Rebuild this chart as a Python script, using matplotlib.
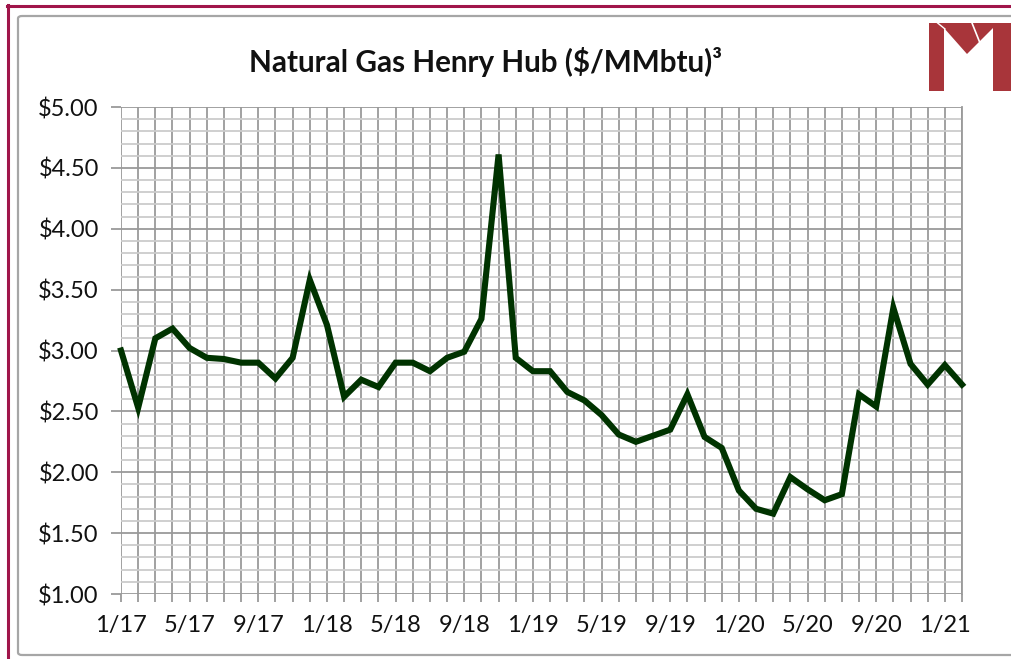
import matplotlib
matplotlib.use("Agg")
import matplotlib.pyplot as plt
from matplotlib.patches import Polygon, FancyBboxPatch
from matplotlib.lines import Line2D
import numpy as np

plt.rcParams['font.family'] = ['Lato', 'DejaVu Sans']

# ---- data ----
months = ["1/17", "2/17", "3/17", "4/17", "5/17", "6/17", "7/17", "8/17", "9/17", "10/17", "11/17", "12/17",
          "1/18", "2/18", "3/18", "4/18", "5/18", "6/18", "7/18", "8/18", "9/18", "10/18", "11/18", "12/18",
          "1/19", "2/19", "3/19", "4/19", "5/19", "6/19", "7/19", "8/19", "9/19", "10/19", "11/19", "12/19",
          "1/20", "2/20", "3/20", "4/20", "5/20", "6/20", "7/20", "8/20", "9/20", "10/20", "11/20", "12/20",
          "1/21", "2/21"]
prices = [3.00, 2.53, 3.10, 3.18, 3.02, 2.94, 2.93, 2.90, 2.90, 2.77, 2.94, 3.58,
          3.21, 2.62, 2.76, 2.70, 2.90, 2.90, 2.83, 2.94, 2.99, 3.26, 4.61, 2.94,
          2.83, 2.83, 2.66, 2.59, 2.47, 2.31, 2.25, 2.30, 2.35, 2.64, 2.29, 2.20,
          1.85, 1.70, 1.66, 1.96, 1.86, 1.77, 1.82, 2.64, 2.54, 3.35, 2.89, 2.72,
          2.88, 2.72]
title = "Natural Gas Henry Hub ($/MMbtu)³"
y_ticks = [1.0, 1.5, 2.0, 2.5, 3.0, 3.5, 4.0, 4.5, 5.0]
y_tick_labels = ["$%.2f" % v for v in y_ticks]

W, H = 1011, 659
fig = plt.figure(figsize=(W / 100, H / 100), dpi=100)
fig.patch.set_facecolor("white")

def fx(px):
    return px / W

def fy(py):
    return 1 - py / H

# outer frame decorations
maroon = "#a0154a"
fig.add_artist(Line2D([fx(7), fx(W)], [fy(6), fy(6)], color=maroon, lw=2.2))
fig.add_artist(Line2D([fx(8), fx(8)], [fy(5), fy(H)], color=maroon, lw=2.2))
frame = FancyBboxPatch((fx(18), fy(655)), fx(1100) - fx(18), fy(16) - fy(655),
                       boxstyle="round,pad=0,rounding_size=0.004",
                       transform=fig.transFigure, facecolor="none",
                       edgecolor="#a6a6a6", lw=1.6)
fig.add_artist(frame)

# logo
red = "#a8353a"
def poly(pts):
    fig.add_artist(Polygon([(fx(x), fy(y)) for x, y in pts], closed=True,
                           facecolor=red, edgecolor="none", transform=fig.transFigure))
poly([(929, 23), (944, 23), (944, 91), (929, 91)])
poly([(993, 23), (1011, 23), (1011, 91), (993, 91)])
poly([(944, 23), (993, 23), (993, 28), (967, 54), (944, 28)])
fig.add_artist(Line2D([fx(972), fx(980)], [fy(23), fy(43)], color="white", lw=1.2))
fig.add_artist(Line2D([fx(937), fx(945)], [fy(22.5), fy(29)], color="white", lw=1.0))

# axes
ax = fig.add_axes([fx(121), fy(594), fx(962) - fx(121), fy(107) - fy(594)])
x = np.arange(len(prices))
ax.set_xlim(0, len(prices) - 1)
ax.set_ylim(1.0, 5.0)

grid_dark = "#9a9a9a"
grid_light = "#cbcbcb"
ax.set_yticks(y_ticks)
ax.set_yticklabels(y_tick_labels)
ax.set_yticks(np.arange(1.0, 5.0001, 0.1), minor=True)
ax.set_xticks(x)
ax.set_xticklabels([m if i % 4 == 0 else "" for i, m in enumerate(months)])
ax.grid(which="minor", axis="y", color=grid_light, lw=1.3)
ax.grid(which="major", axis="y", color=grid_dark, lw=1.3)
ax.grid(which="major", axis="x", color=grid_dark, lw=1.3)
ax.set_axisbelow(True)
for s in ax.spines.values():
    s.set_visible(False)
ax.spines['right'].set_visible(True)
ax.spines['right'].set_color(grid_dark)
ax.spines['right'].set_linewidth(1.3)
ax.tick_params(axis="y", which="major", length=7, width=1.3, color=grid_dark,
               labelsize=17, pad=9, labelcolor="#111111")
ax.tick_params(axis="y", which="minor", length=0)
ax.tick_params(axis="x", which="major", length=6, width=1.3, color=grid_dark,
               labelsize=17, pad=9, labelcolor="#111111")

ax.plot(x, prices, color="#003300", lw=4.4, solid_joinstyle="miter", zorder=5, clip_on=False)

fig.text(fx(486), fy(62), title, ha="center", va="center", fontsize=21.3,
         fontweight="bold", color="#111111")

fig.savefig("out.png", dpi=100, facecolor="white")
